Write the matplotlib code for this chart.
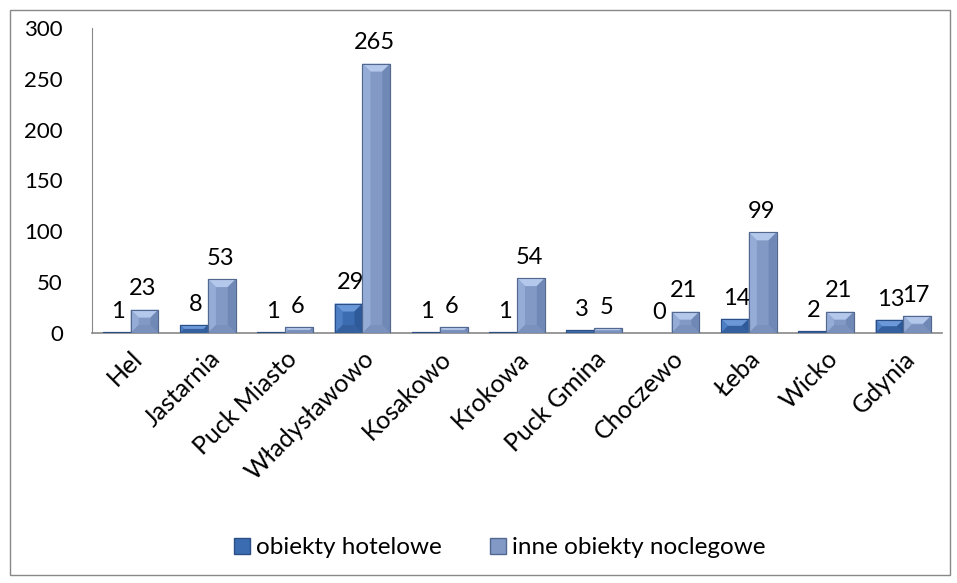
import numpy as np
import matplotlib
matplotlib.use("Agg")
import matplotlib.pyplot as plt
from matplotlib.patches import Polygon, Rectangle

categories = ["Hel", "Jastarnia", "Puck Miasto", "Władysławowo", "Kosakowo",
              "Krokowa", "Puck Gmina", "Choczewo", "Łeba", "Wicko", "Gdynia"]
hotelowe = [1, 8, 1, 29, 1, 1, 3, 0, 14, 2, 13]
inne = [23, 53, 6, 265, 6, 54, 5, 21, 99, 21, 17]
series_names = ["obiekty hotelowe", "inne obiekty noclegowe"]

plt.rcParams['font.family'] = ['Lato', 'DejaVu Sans']

W, H = 957, 583
fig = plt.figure(figsize=(W / 100, H / 100), dpi=100)
ax = fig.add_axes([92 / W, 250 / H, 850 / W, 305 / H])

x = np.arange(len(categories))
bw = 0.36

# colours: base, top, left, right, bottom, edge
pal_hotel = ["#3B6CB2", "#6B98D8", "#4E7FC4", "#2F5A99", "#34609F", "#2B4F85"]
pal_inne = ["#8299C6", "#B3C8EA", "#95ACD6", "#7088B6", "#7A91BE", "#52688F"]

# px per data unit
xpx = 850 / len(categories)
ypx = 305 / 300


def bevel_bar(xc, h, pal):
    x0, x1 = xc - bw / 2, xc + bw / 2
    if h <= 0:
        return
    hp = h * ypx
    wp = bw * xpx
    d = min(8, hp / 2, wp / 2)
    dx = d / xpx
    dy = d / ypx
    ax.add_patch(Rectangle((x0, 0), bw, h, facecolor=pal[0], edgecolor=pal[5],
                           linewidth=0.8, zorder=2))
    ax.add_patch(Polygon([(x0, h), (x1, h), (x1 - dx, h - dy), (x0 + dx, h - dy)],
                         closed=True, facecolor=pal[1], edgecolor='none', zorder=3))
    ax.add_patch(Polygon([(x0, 0), (x0, h), (x0 + dx, h - dy), (x0 + dx, dy)],
                         closed=True, facecolor=pal[2], edgecolor='none', zorder=3))
    ax.add_patch(Polygon([(x1, 0), (x1, h), (x1 - dx, h - dy), (x1 - dx, dy)],
                         closed=True, facecolor=pal[3], edgecolor='none', zorder=3))
    ax.add_patch(Polygon([(x0, 0), (x1, 0), (x1 - dx, dy), (x0 + dx, dy)],
                         closed=True, facecolor=pal[4], edgecolor='none', zorder=3))
    ax.add_patch(Rectangle((x0, 0), bw, h, facecolor='none', edgecolor=pal[5],
                           linewidth=0.8, zorder=4))


for i in range(len(categories)):
    bevel_bar(x[i] - bw / 2, hotelowe[i], pal_hotel)
    bevel_bar(x[i] + bw / 2, inne[i], pal_inne)
    ax.text(x[i] - bw / 2 + 0.02, hotelowe[i] + 10, str(hotelowe[i]), ha='center',
            va='bottom', fontsize=17)
    ax.text(x[i] + bw / 2 - 0.02, inne[i] + 10, str(inne[i]), ha='center',
            va='bottom', fontsize=17)

ax.set_xlim(-0.5, len(categories) - 0.5)
ax.set_ylim(0, 300)
ax.set_yticks(range(0, 301, 50))
ax.set_xticks(x)
ax.set_xticklabels(categories, rotation=45, ha='right', rotation_mode='anchor',
                   fontsize=18)
ax.tick_params(axis='y', length=0, labelsize=16, pad=21)
ax.tick_params(axis='x', length=0, pad=10)
for s in ['top', 'right']:
    ax.spines[s].set_visible(False)
ax.spines['left'].set_color('#888888')
ax.spines['bottom'].set_color('#888888')
ax.spines['bottom'].set_linewidth(1.2)

# legend
handles = [Rectangle((0, 0), 1, 1, facecolor=pal_hotel[0], edgecolor=pal_hotel[5]),
           Rectangle((0, 0), 1, 1, facecolor=pal_inne[0], edgecolor=pal_inne[5])]
fig.legend(handles, series_names, loc='center', bbox_to_anchor=(500 / W, 1 - 548 / H),
           ncol=2, frameon=False, fontsize=17.5, handlelength=0.65, handleheight=0.65,
           handletextpad=0.25, columnspacing=2.0)

# outer border
fig.add_artist(Rectangle((10 / W, 8 / H), 940 / W, 565 / H, transform=fig.transFigure,
                         facecolor='none', edgecolor='#888888', linewidth=1))

fig.savefig("out.png", dpi=100)
